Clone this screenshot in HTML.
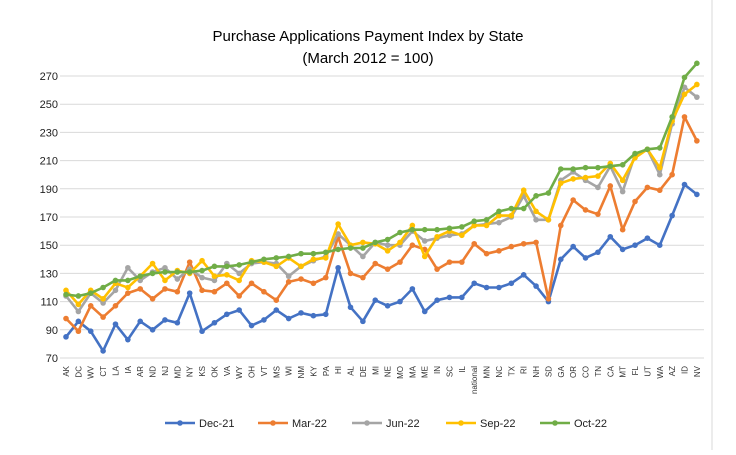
<!DOCTYPE html>
<html><head><meta charset="utf-8"><style>
body{margin:0;background:#fff;font-family:"Liberation Sans",sans-serif}
</style></head><body>
<svg id="s" width="736" height="450" xmlns="http://www.w3.org/2000/svg" font-family="Liberation Sans, sans-serif">
<rect x="0" y="0" width="736" height="450" fill="#fff"/>
<line x1="712" y1="0" x2="712" y2="450" stroke="#d9d9d9"/>
<text x="368" y="41" text-anchor="middle" font-size="15" fill="#000">Purchase Applications Payment Index by State</text>
<text x="368" y="63" text-anchor="middle" font-size="15" fill="#000">(March 2012 = 100)</text>
<g id="g"></g>
</svg>
<script>
var NS="http://www.w3.org/2000/svg",g=document.getElementById('g');
function el(t,a,txt){var e=document.createElementNS(NS,t);for(var k in a)e.setAttribute(k,a[k]);if(txt)e.textContent=txt;g.appendChild(e);return e;}
var labels="AK DC WV CT LA IA AR ND NJ MD NY KS OK VA WY OH VT MS WI NM KY PA HI AL DE MI NE MO MA ME IN SC IL national MN NC TX RI NH SD GA OR CO TN CA MT FL UT WA AZ ID NV".split(" ");
function Y(v){return 358-(v-70)*1.41;}
function X(i){return 66+i*12.37;}
for(var v=70;v<=270;v+=20){el('line',{x1:60,x2:704,y1:Y(v),y2:Y(v),stroke:'#d9d9d9','stroke-width':1});el('text',{x:58,y:Y(v)+4,'text-anchor':'end','font-size':11,fill:'#222'},String(v));}
labels.forEach(function(l,i){el('text',{transform:'translate('+(X(i)+3)+',366) rotate(-90)','text-anchor':'end','font-size':8,fill:'#333'},l);});
var S=[
['#4472c4','Dec-21',[85,96,89,75,94,83,96,90,97,95,116,89,95,101,104,93,97,104,98,102,100,101,134,106,96,111,107,110,119,103,111,113,113,123,120,120,123,129,121,110,140,149,141,145,156,147,150,155,150,171,193,186]],
['#ed7d31','Mar-22',[98,89,107,99,107,116,119,112,119,117,138,118,117,123,114,123,117,111,124,126,123,127,156,130,127,137,133,138,150,147,133,138,138,151,144,146,149,151,152,112,164,182,175,172,192,161,181,191,189,200,241,224]],
['#a5a5a5','Jun-22',[114,103,116,109,118,134,125,131,134,126,133,127,125,137,130,137,138,137,128,135,139,142,158,150,142,152,150,150,160,153,155,157,158,164,165,166,170,185,168,168,196,202,196,191,206,188,214,218,200,236,262,255]],
['#ffc000','Sep-22',[118,108,118,112,123,120,128,137,125,132,130,139,128,129,125,139,138,135,141,135,140,141,165,150,152,151,146,152,164,142,156,160,157,164,164,171,171,189,174,168,194,197,198,199,208,196,212,218,205,238,257,264]],
['#70ad47','Oct-22',[115,114,116,120,125,125,128,130,131,131,131,132,135,135,136,138,140,141,142,144,144,145,147,148,148,152,154,159,161,161,161,162,163,167,168,174,176,176,185,187,204,204,205,205,206,207,215,218,219,241,269,279]]];
var lx=[165,258,352,446,540];
S.forEach(function(s,k){
 var p=s[2].map(function(v,i){return X(i).toFixed(1)+','+Y(v).toFixed(1)}).join(' ');
 el('polyline',{points:p,fill:'none',stroke:s[0],'stroke-width':2.6,'stroke-linejoin':'round'});
 s[2].forEach(function(v,i){el('circle',{cx:X(i),cy:Y(v),r:2.8,fill:s[0]});});
 el('line',{x1:lx[k],x2:lx[k]+30,y1:423,y2:423,stroke:s[0],'stroke-width':2.6});
 el('circle',{cx:lx[k]+15,cy:423,r:2.8,fill:s[0]});
 el('text',{x:lx[k]+34,y:427,'font-size':11,fill:'#222'},s[1]);
});
</script>
</body></html>
